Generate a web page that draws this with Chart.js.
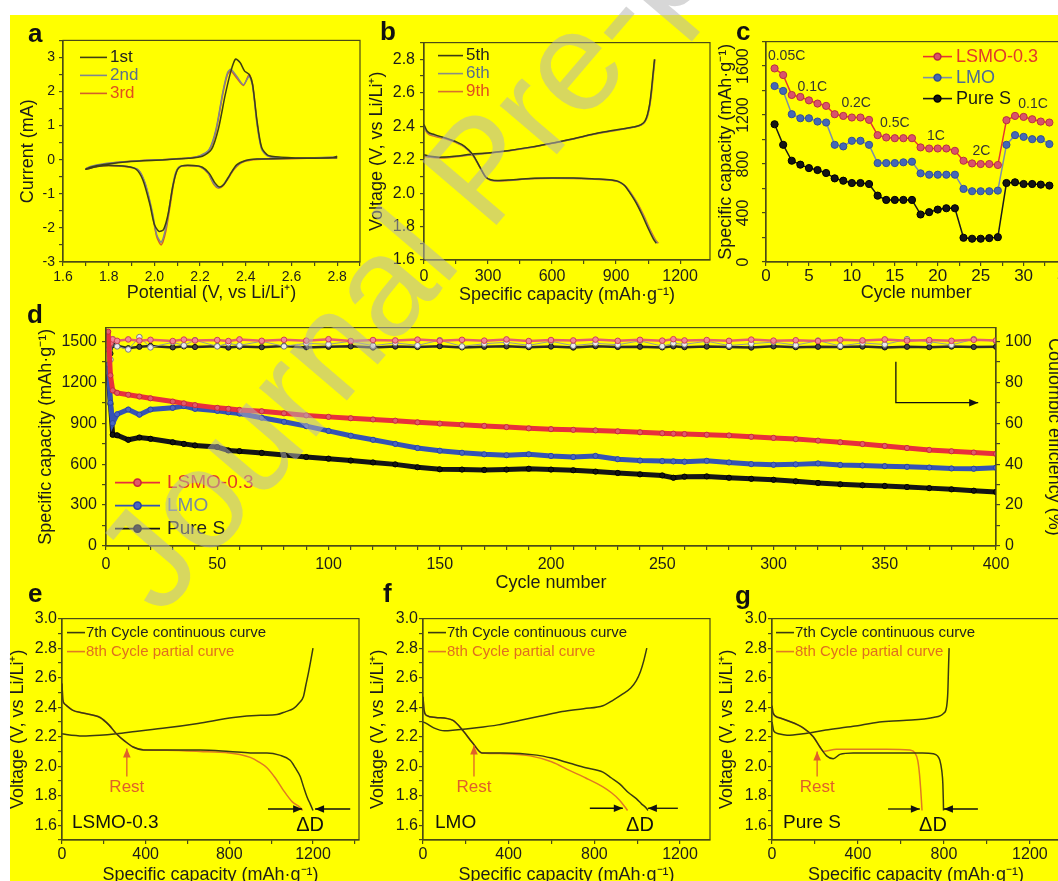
<!DOCTYPE html>
<html>
<head>
<meta charset="utf-8">
<script src="https://cdn.jsdelivr.net/npm/chart.js@4.4.1/dist/chart.umd.min.js"></script>
<style>
html, body { margin: 0; padding: 0; width: 1058px; height: 881px; overflow: hidden; background: #fff; position: relative; }
#sheet { position: absolute; left: 10px; top: 15px; width: 1048px; height: 866px; background: #ffff00; }
canvas { position: absolute; }
#over { position: absolute; left: 0; top: 0; pointer-events: none; }
</style>
</head>
<body>
<div id="sheet"></div>
<script>
const FONT = '"Liberation Sans", Arial, Helvetica, sans-serif';
const FRAME = '#4b4b16';
const INK = '#1c1c1c';

// ---- a: cyclic voltammetry (potential V, current mA) ----
const cv1st = [[2.8,0.1],[2.78,0.06],[2.6,0.04],[2.45,0.02],[2.4,-0.02],[2.36,-0.15],[2.33,-0.45],[2.305,-0.72],[2.285,-0.8],[2.265,-0.68],[2.24,-0.4],[2.21,-0.22],[2.17,-0.17],[2.12,-0.18],[2.1,-0.3],[2.08,-0.8],[2.06,-1.6],[2.04,-2.05],[2.02,-2.1],[2.0,-1.9],[1.98,-1.3],[1.95,-0.6],[1.92,-0.28],[1.88,-0.2],[1.8,-0.17],[1.75,-0.2],[1.7,-0.28],[1.72,-0.22],[1.78,-0.14],[1.85,-0.08],[1.95,-0.03],[2.05,0.0],[2.15,0.04],[2.21,0.1],[2.25,0.3],[2.28,0.9],[2.31,1.9],[2.335,2.6],[2.355,2.95],[2.375,2.85],[2.395,2.6],[2.415,2.5],[2.43,2.2],[2.45,1.1],[2.47,0.35],[2.5,0.12],[2.6,0.06],[2.7,0.05],[2.8,0.06]];
const cv2nd = [[2.8,0.08],[2.6,0.04],[2.45,0.02],[2.39,-0.05],[2.35,-0.25],[2.32,-0.55],[2.3,-0.75],[2.28,-0.82],[2.26,-0.7],[2.235,-0.38],[2.2,-0.2],[2.15,-0.17],[2.11,-0.2],[2.09,-0.45],[2.07,-1.2],[2.05,-2.0],[2.03,-2.42],[2.01,-2.2],[1.99,-1.5],[1.96,-0.7],[1.93,-0.3],[1.88,-0.2],[1.8,-0.16],[1.75,-0.19],[1.7,-0.27],[1.72,-0.2],[1.78,-0.12],[1.85,-0.07],[1.95,-0.02],[2.05,0.01],[2.15,0.05],[2.2,0.12],[2.24,0.3],[2.27,0.9],[2.3,2.0],[2.32,2.55],[2.335,2.65],[2.36,2.45],[2.39,2.2],[2.415,2.45],[2.43,2.15],[2.45,1.0],[2.47,0.3],[2.5,0.1],[2.6,0.05],[2.8,0.06]];
const cv3rd = [[2.8,0.07],[2.6,0.03],[2.45,0.01],[2.39,-0.06],[2.35,-0.27],[2.32,-0.58],[2.3,-0.77],[2.28,-0.83],[2.26,-0.72],[2.235,-0.4],[2.2,-0.21],[2.15,-0.18],[2.11,-0.21],[2.09,-0.5],[2.07,-1.3],[2.05,-2.1],[2.03,-2.5],[2.01,-2.25],[1.99,-1.55],[1.96,-0.72],[1.93,-0.31],[1.88,-0.21],[1.8,-0.17],[1.75,-0.2],[1.7,-0.27],[1.72,-0.21],[1.78,-0.13],[1.85,-0.07],[1.95,-0.02],[2.05,0.01],[2.15,0.05],[2.2,0.11],[2.24,0.28],[2.27,0.85],[2.3,1.95],[2.32,2.5],[2.335,2.6],[2.36,2.4],[2.39,2.18],[2.415,2.5],[2.43,2.2],[2.45,1.05],[2.47,0.32],[2.5,0.1],[2.6,0.05],[2.8,0.05]];

// ---- b: charge / discharge profiles (mAh/g, V) ----
const b5thDis = [[0,2.41],[15,2.37],[50,2.35],[100,2.33],[145,2.31],[190,2.28],[229,2.23],[260,2.16],[290,2.095],[344,2.075],[400,2.078],[500,2.088],[600,2.09],[700,2.09],[800,2.085],[880,2.078],[910,2.07],[940,2.045],[960,2.01],[990,1.95],[1020,1.875],[1050,1.79],[1075,1.725],[1088,1.70]];
const b5thChg = [[0,2.23],[30,2.22],[70,2.215],[145,2.22],[220,2.232],[300,2.24],[400,2.255],[500,2.275],[604,2.30],[700,2.325],[800,2.355],[910,2.38],[980,2.395],[1017,2.41],[1035,2.43],[1047,2.47],[1057,2.53],[1065,2.61],[1072,2.7],[1080,2.80]];
const b6thDis = [[0,2.40],[15,2.365],[50,2.345],[100,2.328],[145,2.308],[190,2.278],[229,2.228],[262,2.155],[292,2.093],[346,2.074],[400,2.077],[500,2.087],[600,2.09],[700,2.089],[800,2.084],[882,2.077],[912,2.068],[944,2.04],[965,2.005],[995,1.945],[1025,1.87],[1055,1.785],[1080,1.722],[1094,1.70]];
const b6thChg = [[0,2.225],[30,2.217],[70,2.213],[145,2.219],[220,2.23],[300,2.239],[400,2.254],[500,2.274],[604,2.299],[700,2.324],[800,2.354],[910,2.379],[980,2.394],[1017,2.408],[1035,2.428],[1047,2.465],[1058,2.53],[1066,2.61],[1073,2.7],[1081,2.80]];
const b9thDis = [[0,2.395],[15,2.36],[50,2.34],[100,2.325],[145,2.305],[190,2.275],[229,2.225],[264,2.15],[295,2.09],[348,2.072],[400,2.076],[500,2.086],[600,2.089],[700,2.088],[800,2.083],[885,2.075],[915,2.066],[948,2.037],[970,2.0],[1000,1.94],[1030,1.865],[1060,1.78],[1085,1.72],[1098,1.70]];
const b9thChg = [[0,2.22],[30,2.214],[70,2.21],[145,2.217],[220,2.228],[300,2.238],[400,2.253],[500,2.273],[604,2.298],[700,2.323],[800,2.353],[910,2.378],[980,2.393],[1017,2.407],[1035,2.426],[1048,2.463],[1059,2.53],[1067,2.61],[1074,2.7],[1082,2.80]];

// ---- c: rate capability ----
const rateCycles = [1,2,3,4,5,6,7,8,9,10,11,12,13,14,15,16,17,18,19,20,21,22,23,24,25,26,27,28,29,30,31,32,33];
const rateLSMO  = [1581,1527,1364,1348,1320,1294,1275,1207,1193,1180,1180,1161,1036,1017,1011,1011,1011,936,927,927,927,908,827,805,800,800,792,1158,1193,1185,1166,1147,1139];
const rateLMO   = [1437,1397,1207,1174,1174,1147,1139,957,944,990,990,957,808,808,808,814,819,724,713,713,713,713,597,578,578,578,583,957,1036,1022,1003,1003,963];
const ratePureS = [1125,957,827,795,767,751,727,683,664,645,645,637,542,507,507,507,507,388,407,428,439,439,198,190,190,195,203,645,651,637,637,632,624];
const rateNames = ['0.05C', '0.1C', '0.2C', '0.5C', '1C', '2C', '0.1C'];

// ---- d: long cycling ----
const lifeCycles = [1,2,3,5,10,15,20,30,35,40,50,55,60,70,80,90,100,110,120,130,140,150,160,170,180,190,200,210,220,230,240,250,255,260,270,280,290,300,310,320,330,340,350,360,370,380,390,400];
const lifeLSMO  = [1570,1250,1140,1122,1108,1095,1082,1058,1045,1032,1012,1005,997,987,972,957,946,936,927,918,906,897,889,880,871,862,856,851,847,840,833,826,823,820,815,810,800,792,783,772,760,747,733,718,704,694,685,675];
const lifeLMO   = [1330,1050,900,965,1000,962,1000,1012,1025,1005,990,980,970,940,910,878,843,808,778,748,718,698,683,672,665,672,660,652,660,636,626,622,620,618,624,612,600,595,598,605,594,590,585,580,575,568,566,574];
const lifePureS = [1240,1040,815,811,778,795,785,760,748,737,725,700,695,682,667,652,640,626,612,598,577,562,560,557,560,566,560,555,545,535,525,517,500,508,510,500,492,485,474,462,452,445,440,432,424,415,405,396];
const ceLSMO  = [96,99,100.9,100.2,100.9,100.3,100.7,100.1,100.8,100.4,100.6,100.1,100.9,100.2,100.7,100.3,101.0,100.1,100.6,100.4,100.8,100.2,100.7,100.3,100.9,100.1,100.6,100.4,100.8,100.2,100.7,100.3,101.0,100.4,100.6,100.2,100.8,100.3,100.5,100.1,100.7,100.4,100.9,100.3,100.6,100.2,100.7,100.4];
const ceLMO   = [80,91,101,97.5,96,102,97,99.5,98,100.5,97.5,99,98,100,97.5,99,98.5,100,97.8,99.2,98,100.5,97.5,98.8,99.5,98,100,97.8,99,98.3,100.2,97.6,99,98.5,100,97.9,98.8,99.6,98.1,100.3,97.7,99.2,98.4,101,99.8,98.2,101,100];
const cePureS = [88,94,98.2,97.8,96.6,97.3,97.7,97.0,97.5,97.2,97.6,96.9,97.4,97.1,97.7,97.0,97.3,97.5,96.9,97.4,97.2,97.6,97.0,97.3,97.5,97.1,97.4,96.9,97.6,97.2,97.3,97.0,97.5,97.1,97.4,97.2,96.9,97.5,97.1,97.3,97.2,97.4,97.0,97.3,97.1,97.4,97.2,97.3];

// ---- e, f, g: 7th continuous vs 8th partial (rest) ----
const eDis7 = [[0,2.56],[4,2.45],[14,2.42],[50,2.38],[100,2.36],[182,2.33],[224,2.28],[260,2.22],[300,2.17],[340,2.13],[390,2.11],[500,2.11],[660,2.11],[800,2.1],[900,2.09],[980,2.09],[1040,2.075],[1091,2.04],[1115,1.99],[1139,1.93],[1155,1.86],[1172,1.79],[1188,1.74],[1200,1.70]];
const eDis8 = [[0,2.56],[4,2.45],[14,2.42],[50,2.38],[100,2.36],[182,2.33],[224,2.28],[260,2.22],[300,2.17],[340,2.13],[390,2.112],[500,2.108],[660,2.1],[800,2.09],[850,2.08],[900,2.06],[940,2.03],[980,1.99],[1020,1.92],[1057,1.84],[1100,1.76],[1139,1.72],[1150,1.70]];
const eChg7 = [[0,2.22],[20,2.215],[100,2.205],[180,2.21],[260,2.22],[350,2.235],[500,2.26],[650,2.29],[820,2.33],[950,2.345],[1028,2.35],[1070,2.37],[1106,2.39],[1135,2.43],[1154,2.47],[1166,2.55],[1178,2.63],[1190,2.72],[1200,2.80]];
const fDis7 = [[0,2.47],[5,2.38],[16,2.345],[60,2.33],[140,2.31],[187,2.24],[233,2.155],[275,2.09],[376,2.09],[531,2.075],[600,2.055],[686,2.02],[760,1.99],[840,1.96],[880,1.92],[918,1.88],[960,1.82],[996,1.78],[1020,1.745],[1043,1.715],[1050,1.70]];
const fDis8 = [[0,2.47],[5,2.38],[16,2.345],[60,2.33],[140,2.31],[187,2.24],[233,2.155],[275,2.09],[376,2.085],[500,2.07],[600,2.03],[686,1.97],[760,1.92],[840,1.86],[880,1.82],[918,1.77],[950,1.71],[955,1.70]];
const fChg7 = [[0,2.30],[15,2.29],[50,2.26],[100,2.24],[150,2.245],[250,2.26],[350,2.28],[450,2.31],[550,2.34],[650,2.37],[750,2.39],[840,2.41],[890,2.45],[933,2.49],[970,2.53],[996,2.58],[1015,2.64],[1030,2.71],[1045,2.80]];
const gDis7 = [[0,2.41],[5,2.36],[30,2.33],[70,2.31],[145,2.26],[192,2.20],[223,2.13],[254,2.07],[285,2.05],[316,2.08],[378,2.09],[500,2.09],[610,2.09],[700,2.09],[750,2.085],[770,2.07],[781,2.04],[790,1.97],[795,1.88],[797,1.78],[798,1.70]];
const gDis8 = [[0,2.41],[5,2.36],[30,2.33],[70,2.31],[145,2.26],[192,2.20],[215,2.15],[240,2.10],[300,2.115],[533,2.115],[640,2.11],[665,2.09],[678,2.04],[686,1.95],[692,1.84],[696,1.75],[698,1.70]];
const gChg7 = [[0,2.30],[8,2.24],[30,2.22],[70,2.21],[145,2.22],[250,2.245],[378,2.27],[500,2.30],[610,2.31],[750,2.33],[800,2.36],[812,2.40],[818,2.50],[821,2.65],[824,2.80]];

// ---------- helpers ----------
const pts = arr => arr.map(p => ({x: p[0], y: p[1]}));
const zip = (xs, ys) => xs.map((x, i) => ({x, y: ys[i]}));
const isMajor = (v, m) => Math.abs(v / m - Math.round(v / m)) < 1e-6;

function axis(o) {
  return {
    type: 'linear', position: o.pos || (o.horiz ? 'bottom' : 'left'), min: o.min, max: o.max, bounds: 'data',
    afterFit: s => { if (o.horiz) s.height = o.size; else s.width = o.size; },
    afterBuildTicks: s => {
      const t = [];
      const n0 = Math.ceil(o.min / o.step - 1e-9), n1 = Math.floor(o.max / o.step + 1e-9);
      for (let n = n0; n <= n1; n++) t.push({value: +(n * o.step).toFixed(6)});
      s.ticks = t;
    },
    border: {display: true, color: FRAME, width: 1.2},
    grid: {display: true, drawOnChartArea: false, drawTicks: true, tickLength: 4, color: FRAME, lineWidth: 1.2},
    ticks: {
      stepSize: o.step, autoSkip: false, maxRotation: 0, minRotation: 0,
      padding: o.pad, color: o.hide ? 'rgba(0,0,0,0)' : INK, font: {family: FONT, size: o.fs},
      callback: v => isMajor(v, o.major) ? v.toFixed(o.dec || 0) : ''
    },
    title: {display: !!o.title, text: o.title, color: INK, font: {family: FONT, size: 18}, padding: 0}
  };
}

const frame = {
  id: 'frame',
  afterDraw(ch) {
    const a = ch.chartArea, c = ch.ctx;
    c.save(); c.strokeStyle = FRAME; c.lineWidth = 1.2;
    c.strokeRect(a.left, a.top, a.right - a.left, a.bottom - a.top);
    c.restore();
  }
};

function key(o) {
  return {
    id: 'key',
    afterDraw(ch) {
      const c = ch.ctx, a = ch.chartArea;
      c.save(); c.font = o.fs + 'px ' + FONT; c.textBaseline = 'middle'; c.textAlign = 'left';
      o.items.forEach((it, i) => {
        const ds = ch.data.datasets[it.ds];
        const x = a.left + o.x, y = a.top + o.y + i * o.dy;
        c.strokeStyle = ds.borderColor; c.lineWidth = 1.6;
        c.beginPath(); c.moveTo(x, y); c.lineTo(x + o.len, y); c.stroke();
        if (o.dot) {
          c.fillStyle = ds.pointBackgroundColor; c.strokeStyle = ds.pointBorderColor;
          c.beginPath(); c.arc(x + o.len / 2, y, o.dot, 0, Math.PI * 2); c.fill(); c.stroke();
        }
        c.fillStyle = it.color;
        c.fillText(ds.label, x + o.len + o.gap, y);
      });
      c.restore();
    }
  };
}

function notes(list) {
  return {
    id: 'notes',
    afterDraw(ch) {
      const c = ch.ctx, X = ch.scales.x;
      c.save();
      list.forEach(n => {
        const Y = ch.scales[n.axis || 'y'];
        c.strokeStyle = c.fillStyle = n.color || INK;
        if (n.path) {
          const p = n.path.map(q => [X.getPixelForValue(q[0]), Y.getPixelForValue(q[1])]);
          c.lineWidth = 1.3;
          c.beginPath(); p.forEach((q, i) => i ? c.lineTo(q[0], q[1]) : c.moveTo(q[0], q[1])); c.stroke();
          const s = p[p.length - 2], e = p[p.length - 1];
          const ang = Math.atan2(e[1] - s[1], e[0] - s[0]), L = 9, W = 3.8;
          const bx = e[0] - L * Math.cos(ang), by = e[1] - L * Math.sin(ang);
          c.beginPath(); c.moveTo(e[0], e[1]);
          c.lineTo(bx + W * Math.sin(ang), by - W * Math.cos(ang));
          c.lineTo(bx - W * Math.sin(ang), by + W * Math.cos(ang));
          c.closePath(); c.fill();
        } else {
          c.font = n.fs + 'px ' + FONT; c.textAlign = n.align || 'center'; c.textBaseline = 'middle';
          c.fillText(n.text, X.getPixelForValue(n.x), Y.getPixelForValue(n.y));
        }
      });
      c.restore();
    }
  };
}

function place(box, pad, datasets, scales, plugins) {
  const cv = document.createElement('canvas');
  const W = box.r - box.l + pad.l + pad.r, H = box.b - box.t + pad.t + pad.b;
  cv.width = W; cv.height = H;
  Object.assign(cv.style, {left: (box.l - pad.l) + 'px', top: (box.t - pad.t) + 'px', width: W + 'px', height: H + 'px'});
  document.body.appendChild(cv);
  return new Chart(cv, {
    type: 'line',
    data: {datasets},
    options: {
      responsive: false, animation: false, events: [],
      layout: {padding: {top: pad.t, right: scales.y1 ? 0 : pad.r, left: 0, bottom: 0}},
      plugins: {legend: {display: false}, tooltip: {enabled: false}},
      elements: {point: {radius: 0}, line: {borderWidth: 1.5, fill: false}},
      scales
    },
    plugins: [frame].concat(plugins || [])
  });
}

function curve(label, data, color, width) {
  return {label, data: pts(data), borderColor: color, borderWidth: width || 1.5, pointRadius: 0, cubicInterpolationMode: 'monotone'};
}

const VTITLE = 'Voltage (V, vs Li/Li\u207A)';
const CAP = 'Specific capacity (mAh\u00B7g\u207B\u00B9)';

// ---------- a ----------
place({l: 63, r: 360, t: 40, b: 262}, {l: 46, r: 6, t: 12, b: 42}, [
  {label: '1st', data: pts(cv1st), borderColor: '#3f3f12', borderWidth: 1.5, tension: 0.25},
  {label: '2nd', data: pts(cv2nd), borderColor: '#7f8590', borderWidth: 1.5, tension: 0.25},
  {label: '3rd', data: pts(cv3rd), borderColor: '#d2602a', borderWidth: 1.5, tension: 0.25}
], {
  x: axis({horiz: true, min: 1.6, max: 2.9, step: 0.1, major: 0.2, dec: 1, fs: 14, pad: 3, size: 42, title: 'Potential (V, vs Li/Li\u207A)'}),
  y: axis({min: -3, max: 3.5, step: 0.5, major: 1, fs: 14, pad: 4, size: 46, title: 'Current (mA)'})
}, [key({x: 17, y: 17, dy: 18, len: 27, gap: 3, fs: 17, items: [{ds: 0, color: '#222'}, {ds: 1, color: '#5a6e8c'}, {ds: 2, color: '#e0501e'}]})]);

// ---------- b ----------
place({l: 424, r: 710, t: 40, b: 260}, {l: 58, r: 6, t: 12, b: 46}, [
  curve('5th', b5thDis, '#3c3c14'), curve('6th', b6thDis, '#8a8f84'), curve('9th', b9thDis, '#d8702c'),
  curve('', b5thChg, '#3c3c14'), curve('', b6thChg, '#8a8f84'), curve('', b9thChg, '#d8702c')
], {
  x: axis({horiz: true, min: 0, max: 1340, step: 150, major: 300, fs: 16, pad: 3, size: 46, title: CAP}),
  y: axis({min: 1.6, max: 2.9, step: 0.1, major: 0.2, dec: 1, fs: 16, pad: 5, size: 58, title: VTITLE})
}, [key({x: 14, y: 13, dy: 18, len: 25, gap: 3, fs: 17, items: [{ds: 0, color: '#222'}, {ds: 1, color: '#5a6e8c'}, {ds: 2, color: '#e0501e'}]})]);

// ---------- c ----------
const rotY = {
  id: 'rotY',
  afterDraw(ch) {
    const s = ch.scales.y, c = ch.ctx;
    c.save(); c.fillStyle = INK; c.font = '16px ' + FONT; c.textAlign = 'center'; c.textBaseline = 'middle';
    s.ticks.forEach(t => {
      if (!isMajor(t.value, 400)) return;
      c.save(); c.translate(s.right - 22, s.getPixelForValue(t.value)); c.rotate(-Math.PI / 2);
      c.fillText(String(t.value), 0, 0); c.restore();
    });
    c.restore();
  }
};
function marked(label, ys, line, fillC, edge) {
  return {label, data: zip(rateCycles, ys), borderColor: line, borderWidth: 1.5, pointRadius: 3.6,
          pointBackgroundColor: fillC, pointBorderColor: edge, pointBorderWidth: 1};
}
place({l: 766, r: 1072, t: 40, b: 262}, {l: 51, r: 4, t: 12, b: 42}, [
  marked('LSMO-0.3', rateLSMO, '#e8352f', '#d9536b', '#b83040'),
  marked('LMO', rateLMO, '#7d8fa8', '#4468b8', '#34508e'),
  marked('Pure S', ratePureS, '#1a1a1a', '#141414', '#000')
], {
  x: axis({horiz: true, min: 0, max: 35, step: 2.5, major: 5, fs: 17, pad: 0, size: 42, title: 'Cycle number'}),
  y: axis({min: 0, max: 1800, step: 200, major: 400, fs: 16, pad: 4, size: 51, hide: true, title: CAP})
}, [rotY,
  key({x: 157, y: 15, dy: 21, len: 29, gap: 4, fs: 18, dot: 3.4, items: [{ds: 0, color: '#e03a2a'}, {ds: 1, color: '#4f6a95'}, {ds: 2, color: '#1a1a1a'}]}),
  notes([
    {text: rateNames[0], x: 2.4, y: 1682, fs: 14, color: '#333'},
    {text: rateNames[1], x: 5.4, y: 1428, fs: 14, color: '#333'},
    {text: rateNames[2], x: 10.5, y: 1296, fs: 14, color: '#333'},
    {text: rateNames[3], x: 15.0, y: 1132, fs: 14, color: '#333'},
    {text: rateNames[4], x: 19.8, y: 1026, fs: 14, color: '#333'},
    {text: rateNames[5], x: 25.1, y: 903, fs: 14, color: '#333'},
    {text: rateNames[6], x: 31.1, y: 1288, fs: 14, color: '#333'}
  ])]);

// ---------- d ----------
function band(label, ys, axisId, line, fillC, edge, w, r) {
  return {label, data: zip(lifeCycles, ys), yAxisID: axisId, borderColor: line, borderWidth: w, pointRadius: r,
          pointBackgroundColor: fillC, pointBorderColor: edge, pointBorderWidth: 1};
}
place({l: 106, r: 996, t: 323, b: 546}, {l: 71, r: 69, t: 10, b: 48}, [
  band('LSMO-0.3', lifeLSMO, 'y', '#e8303c', '#e05a6a', '#c8283a', 5, 2.6),
  band('LMO', lifeLMO, 'y', '#3553b5', '#4a66c0', '#2a44a0', 5, 2.6),
  band('Pure S', lifePureS, 'y', '#151515', '#151515', '#000', 5, 2.6),
  band('CE LSMO-0.3', ceLSMO, 'y1', '#e8606c', '#f08896', '#d04050', 2.5, 2.8),
  band('CE LMO', ceLMO, 'y1', '#9a9a9a', '#ececec', '#7a7a7a', 1, 2.8),
  band('CE Pure S', cePureS, 'y1', '#2a2a2a', '#444', '#111', 2.5, 2.6)
], {
  x: axis({horiz: true, min: 0, max: 400, step: 10, major: 50, fs: 16, pad: 5, size: 48, title: 'Cycle number'}),
  y: axis({min: 0, max: 1600, step: 150, major: 300, fs: 16, pad: 5, size: 71, title: CAP}),
  y1: axis({pos: 'right', min: 0, max: 1600 / 15, step: 10, major: 20, fs: 16, pad: 5, size: 69, title: 'Coulombic efficiency (%)'})
}, [
  key({x: 9, y: 155, dy: 23, len: 45, gap: 7, fs: 19, dot: 3.6, items: [{ds: 0, color: '#e03a2a'}, {ds: 1, color: '#7a8aa0'}, {ds: 2, color: '#222'}]}),
  notes([{path: [[355, 90], [355, 70], [392, 70]], axis: 'y1', color: '#111'}])
]);

// ---------- e, f, g ----------
function restPanel(box, padL, xmax, dis7, dis8, chg7, tag, o) {
  place(box, {l: padL, r: 6, t: 10, b: 46}, [
    curve('7th Cycle continuous curve', dis7, '#3a3a12'),
    curve('8th Cycle partial curve', dis8, '#e07a22'),
    curve('', chg7, '#3a3a12')
  ], {
    x: axis({horiz: true, min: 0, max: xmax, step: 200, major: 400, fs: 16, pad: 1, size: 46, title: CAP}),
    y: axis({min: 1.5, max: 3.0, step: 0.1, major: 0.2, dec: 1, fs: 16, pad: 1, size: padL, title: VTITLE})
  }, [
    key({x: o.kx, y: 14, dy: 19, len: 18, gap: 1, fs: 15, items: [{ds: 0, color: '#222'}, {ds: 1, color: '#e0701e'}]}),
    notes([
      {path: [[o.rest, 1.93], [o.rest, o.restTip]], color: '#e0602a'},
      {text: 'Rest', x: o.rest, y: 1.86, fs: 17, color: '#e0602a'},
      {path: [[o.d[0], o.dy], [o.d[1], o.dy]], color: '#111'},
      {path: [[o.d[3], o.dy], [o.d[2], o.dy]], color: '#111'},
      {text: '\u0394D', x: o.dl, y: 1.6, fs: 20, color: '#111'},
      {text: tag, x: o.tx, y: 1.615, fs: 19, align: 'left', color: '#111'}
    ])
  ]);
}
restPanel({l: 62, r: 359, t: 618, b: 840}, 55, 1420, eDis7, eDis8, eChg7, 'LSMO-0.3',
  {kx: 5, rest: 310, restTip: 2.12, d: [985, 1148, 1210, 1378], dy: 1.71, dl: 1186, tx: 48});
restPanel({l: 423, r: 710, t: 618, b: 840}, 56, 1340, fDis7, fDis8, fChg7, 'LMO',
  {kx: 5, rest: 238, restTip: 2.14, d: [779, 933, 1050, 1190], dy: 1.715, dl: 1013, tx: 56});
restPanel({l: 772, r: 1060, t: 618, b: 840}, 56, 1340, gDis7, gDis8, gChg7, 'Pure S',
  {kx: 4, rest: 210, restTip: 2.10, d: [540, 688, 800, 958], dy: 1.71, dl: 749, tx: 51});

// ---------- panel letters + watermark ----------
const NS = 'http://www.w3.org/2000/svg';
const svg = document.createElementNS(NS, 'svg');
svg.setAttribute('id', 'over'); svg.setAttribute('width', 1058); svg.setAttribute('height', 881);
function txt(s, x, y, attrs) {
  const t = document.createElementNS(NS, 'text');
  t.setAttribute('x', x); t.setAttribute('y', y);
  for (const k in attrs) t.setAttribute(k, attrs[k]);
  t.textContent = s; svg.appendChild(t);
}
[['a', 28, 42], ['b', 380, 40], ['c', 736, 40], ['d', 27, 323], ['e', 28, 602], ['f', 383, 602], ['g', 735, 604]]
  .forEach(p => txt(p[0], p[1], p[2], {'font-family': 'Liberation Sans, Arial, sans-serif', 'font-size': 26, 'font-weight': 'bold', fill: '#111'}));
txt('Journal Pre-proof', 161, 618, {'font-family': 'Liberation Sans, Arial, sans-serif', 'font-size': 142,
  fill: 'rgb(179,179,179)', 'fill-opacity': 0.53, transform: 'rotate(-49.5 161 618)'});
document.body.appendChild(svg);
</script>
</body>
</html>
